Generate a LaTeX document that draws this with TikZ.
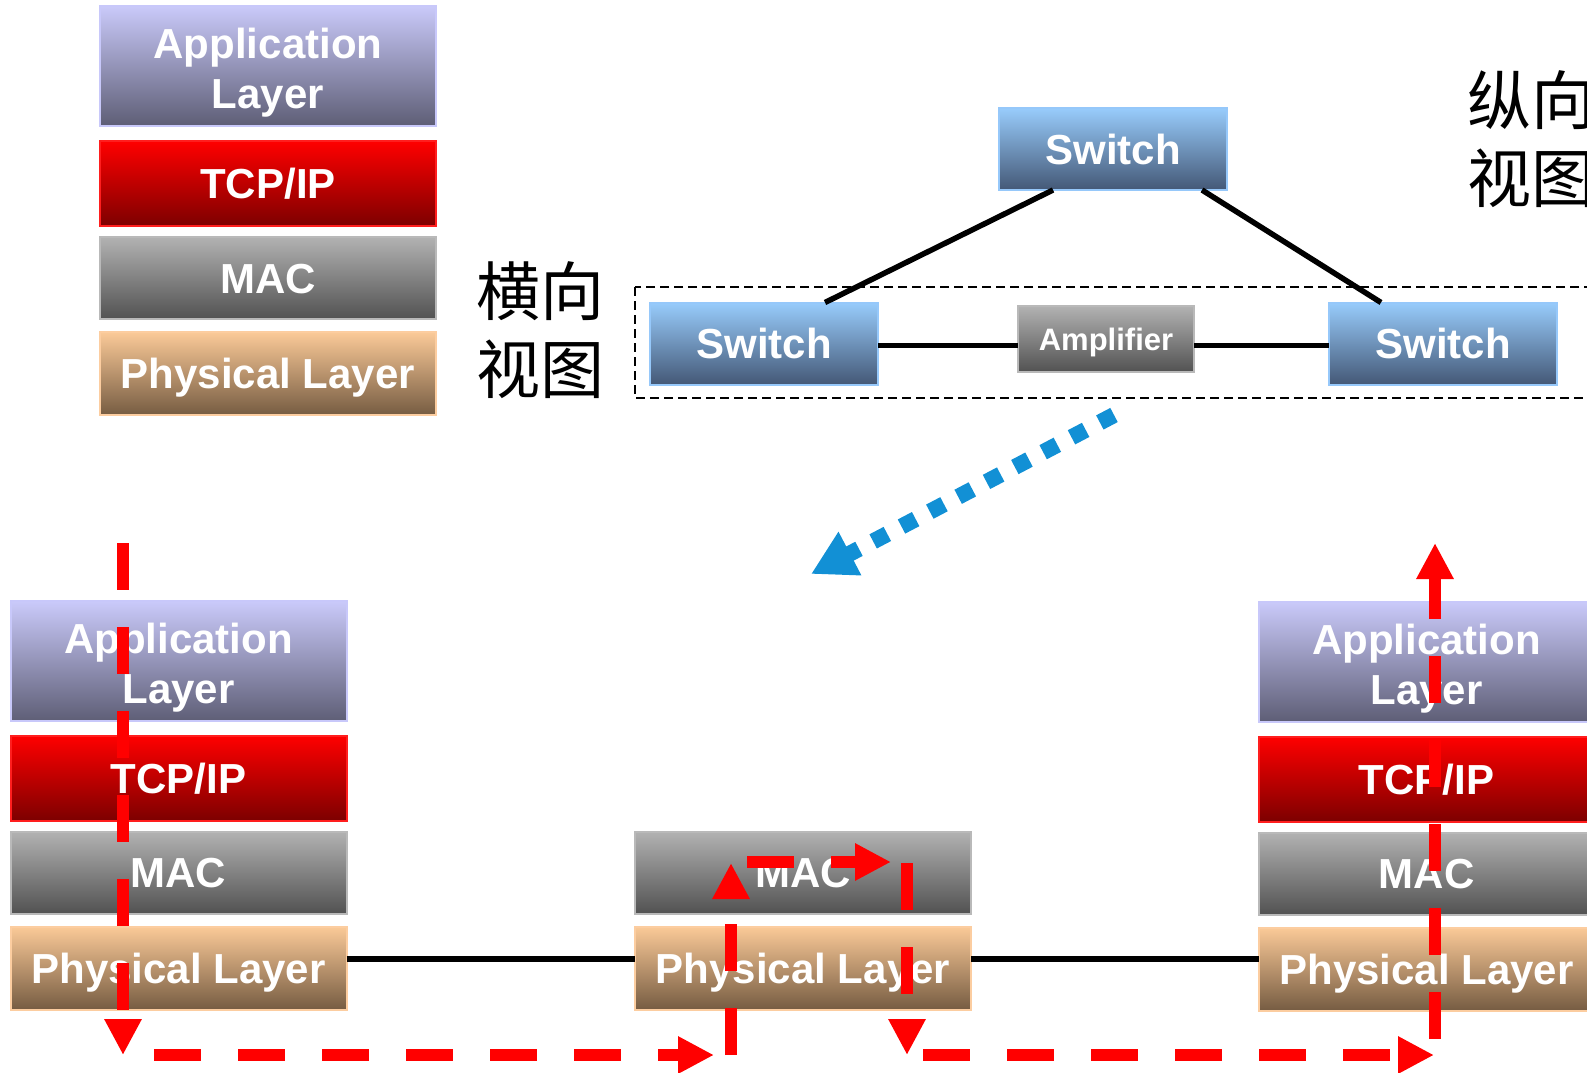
\documentclass[tikz,border=0pt]{standalone}
\usepackage{fontspec}
\setmainfont{Liberation Sans}
\newfontfamily\cjkfont{Noto Sans CJK SC}
\usetikzlibrary{arrows.meta,calc}

\definecolor{appTop}{RGB}{202,202,250}
\definecolor{appBot}{RGB}{94,94,118}
\definecolor{appLine}{RGB}{200,200,250}
\definecolor{tcpTop}{RGB}{255,0,0}
\definecolor{tcpBot}{RGB}{125,0,0}
\definecolor{tcpLine}{RGB}{255,30,30}
\definecolor{macTop}{RGB}{178,178,178}
\definecolor{macBot}{RGB}{82,82,82}
\definecolor{macLine}{RGB}{185,185,185}
\definecolor{phyTop}{RGB}{251,202,152}
\definecolor{phyBot}{RGB}{118,92,66}
\definecolor{phyLine}{RGB}{252,205,160}
\definecolor{swTop}{RGB}{152,204,252}
\definecolor{swBot}{RGB}{68,88,118}
\definecolor{swLine}{RGB}{150,200,250}
\definecolor{flowRed}{RGB}{255,0,0}
\definecolor{flowBlue}{RGB}{18,144,213}

\newcommand{\applabel}{\rule{0pt}{35pt}Application\\\smash{Layer}}

\tikzset{
  layerbox/.style={rectangle, inner sep=0pt, outer sep=0pt, minimum width=336pt,
    line width=2pt, text=white, font=\fontsize{42}{50}\selectfont\bfseries, align=center},
  oneline/.style={text height=30pt, text depth=0pt},
  applayer/.style={layerbox, minimum height=120pt, draw=appLine, top color=appTop, bottom color=appBot},
  tcplayer/.style={layerbox, oneline, minimum height=85pt, draw=tcpLine, top color=tcpTop, bottom color=tcpBot},
  maclayer/.style={layerbox, oneline, minimum height=82pt, draw=macLine, top color=macTop, bottom color=macBot},
  phylayer/.style={layerbox, oneline, minimum height=83pt, draw=phyLine, top color=phyTop, bottom color=phyBot},
  switchbox/.style={rectangle, inner sep=0pt, outer sep=0pt, minimum width=228pt, minimum height=82pt,
    line width=2pt, draw=swLine, top color=swTop, bottom color=swBot, text=white,
    font=\fontsize{42}{50}\selectfont\bfseries, oneline},
  ampbox/.style={rectangle, inner sep=0pt, outer sep=0pt, minimum width=176pt, minimum height=66pt,
    line width=2pt, draw=macLine, top color=macTop, bottom color=macBot, text=white,
    font=\fontsize{31}{37}\selectfont\bfseries, text height=22pt, text depth=0pt},
  link/.style={line width=5.5pt, black},
  viewframe/.style={draw=black, line width=2.5pt, dash pattern=on 9pt off 5pt},
  viewlabel/.style={inner sep=0pt, align=left, font=\cjkfont\fontsize{64}{78}\selectfont},
  flow/.style={draw=flowRed, line width=12pt, dash pattern=on 47pt off 37pt,
    -{Triangle[length=36pt,width=35pt]}},
  zoomflow/.style={draw=flowBlue, line width=16pt, dash pattern=on 16pt off 16pt,
    -{Triangle[length=44pt,width=46pt]}},
}

\begin{document}
\begin{tikzpicture}[x=1pt, y=-1pt]
\useasboundingbox (0,0) rectangle (1587,1072);
\clip (0,0) rectangle (1587,1072);

% protocol stack of a single station
\node[applayer] (kApp) at (268,65.5) {\applabel};
\node[tcplayer] (kTcp) at (268,183.5) {TCP/IP};
\node[maclayer] (kMac) at (268,278) {MAC};
\node[phylayer] (kPhy) at (268,373.5) {Physical Layer};

% captions
\node[viewlabel] (hview) at (540.5,330.5) {横向\\视图};
\node[viewlabel, anchor=west] (vview) at (1467,139) {纵向\\视图};

% switched network with an amplifier on one span
\draw[viewframe] (635,287) rectangle (1640,398);
\node[switchbox] (topSw) at (1113,149) {Switch};
\node[switchbox] (leftSw) at (764,343.5) {Switch};
\node[switchbox] (rightSw) at (1443,343.5) {Switch};
\node[ampbox] (amp) at (1106,339) {Amplifier};

\draw[link] ([xshift=54pt]topSw.south west) -- ([xshift=175pt]leftSw.north west);
\draw[link] ([xshift=203pt]topSw.south west) -- ([xshift=52pt]rightSw.north west);
\draw[link] ([yshift=-2pt]leftSw.east) -- ([yshift=-2pt]leftSw.east -| amp.west);
\draw[link] ([yshift=-2pt]leftSw.east -| amp.east) -- ([yshift=-2pt]leftSw.east -| rightSw.west);

% zoom into the amplified span
\coordinate (zoomFrom) at (1114,415);
\coordinate (zoomTo) at (811,574);
\draw[zoomflow] (zoomFrom) -- (zoomTo);

% sending station
\node[applayer] (sApp) at (178.5,661) {\applabel};
\node[tcplayer] (sTcp) at (178.5,778) {TCP/IP};
\node[maclayer] (sMac) at (178.5,872.5) {MAC};
\node[phylayer] (sPhy) at (178.5,968) {Physical Layer};

% intermediate device
\node[maclayer] (mMac) at (803,872.5) {MAC};
\node[phylayer] (mPhy) at (803,968) {Physical Layer};

% receiving station
\node[applayer] (rApp) at (1426.5,661.5) {\applabel};
\node[tcplayer] (rTcp) at (1426.5,779) {TCP/IP};
\node[maclayer] (rMac) at (1426.5,873.5) {MAC};
\node[phylayer] (rPhy) at (1426.5,969) {Physical Layer};

% physical links
\draw[link] ([yshift=9pt]sPhy.east) -- ([yshift=9pt]sPhy.east -| mPhy.west);
\draw[link] ([yshift=9pt]mPhy.east) -- ([yshift=9pt]mPhy.east -| rPhy.west);

% path of a frame through the layers
\coordinate (p1) at (123,543);
\coordinate (p2) at (123,1055);
\coordinate (p3) at (154,1055);
\coordinate (p4) at (714,1055);
\coordinate (p5) at (731,1055);
\coordinate (p6) at (731,863);
\coordinate (p7) at (747,862);
\coordinate (p8) at (891,862);
\coordinate (p9) at (907,863);
\coordinate (p10) at (907,1055);
\coordinate (p11) at (923,1055);
\coordinate (p12) at (1434,1055);
\coordinate (p13) at (1435,1039);
\coordinate (p14) at (1435,543);

\draw[flow] (p1) -- (p2);
\draw[flow] (p3) -- (p4);
\draw[flow] (p5) -- (p6);
\draw[flow] (p7) -- (p8);
\draw[flow] (p9) -- (p10);
\draw[flow] (p11) -- (p12);
\draw[flow] (p13) -- (p14);
\end{tikzpicture}
\end{document}
